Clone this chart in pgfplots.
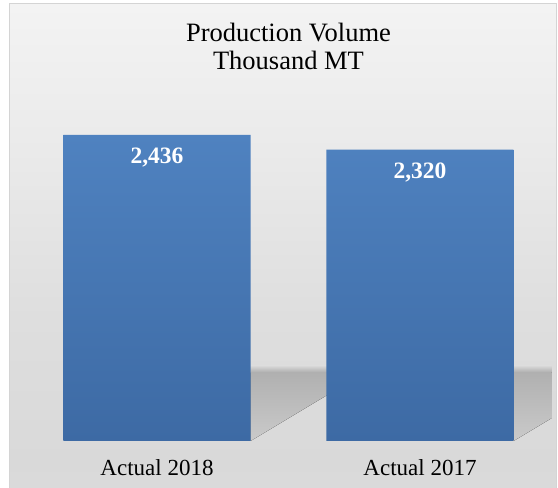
\documentclass[border=0pt]{standalone}
\usepackage{fontspec}
\setmainfont{Liberation Serif}
\usepackage{pgfplots}
\pgfplotsset{compat=1.18}
\definecolor{bgA}{HTML}{FBFBFB}
\definecolor{bgB}{HTML}{F2F2F2}
\definecolor{bgC}{HTML}{DFDFDF}
\definecolor{bgD}{HTML}{D9D9D9}
\definecolor{bgE}{HTML}{DEDEDE}
\definecolor{bgF}{HTML}{EAEAEA}
\definecolor{bgG}{HTML}{F6F6F6}
\definecolor{bgH}{HTML}{FEFEFE}
\definecolor{frame}{HTML}{D4D4D4}
\definecolor{barTop}{HTML}{4F82C0}
\definecolor{barBot}{HTML}{3D6AA4}
\definecolor{shTop}{HTML}{B0B0B0}
\definecolor{shBot}{HTML}{CACACA}
\pgfdeclareverticalshading{bgshade}{100bp}{color(0bp)=(bgA); color(9bp)=(bgB); color(18bp)=(bgC); color(28bp)=(bgD); color(43bp)=(bgE); color(60bp)=(bgF); color(80bp)=(bgG); color(100bp)=(bgH)}
\begin{document}
\begin{tikzpicture}
\useasboundingbox (0pt,0pt) rectangle (279pt,244pt);
\shade[shading=bgshade] (4.5pt,-2.5pt) rectangle (278pt,242pt);
\draw[line width=0.5pt, draw=frame] (4.5pt,-2.5pt) rectangle (278pt,242pt);
\begin{axis}[
  at={(12.75pt,23.5pt)}, anchor=south west,
  scale only axis, width=263pt, height=169.6pt,
  xmin=-0.5, xmax=1.5, ymin=0, ymax=2700,
  axis line style={draw=none}, tick style={draw=none},
  ytick=\empty, xtick={0,1}, xticklabels={Actual 2018, Actual 2017},
  xticklabel style={font=\fontsize{11.5}{13}\selectfont, inner sep=0pt, yshift=-9pt},
  title={Production Volume\\Thousand MT},
  title style={at={(0.5,1.197)}, anchor=north, inner sep=0pt, align=center, font=\fontsize{13.25}{14}\selectfont},
  /pgf/number format/assume math mode=true,
  /pgf/number format/1000 sep={,},
]
\fill[top color=shTop, bottom color=shBot] (axis cs:0.3555,0) -- (axis cs:0.66,382) -- (axis cs:0.66,549) -- (axis cs:0.3555,549) -- cycle;
\fill[top color=bgD, bottom color=shTop] (axis cs:0.3555,549) rectangle (axis cs:0.66,600);
\fill[top color=shTop, bottom color=shBot] (axis cs:1.3555,0) -- (axis cs:1.66,382) -- (axis cs:1.66,549) -- (axis cs:1.3555,549) -- cycle;
\fill[top color=bgD, bottom color=shTop] (axis cs:1.3555,549) rectangle (axis cs:1.66,600);
\addplot[ybar, bar width=93.5pt, draw=none, top color=barTop, bottom color=barBot,
  nodes near coords,
  nodes near coords style={anchor=north, inner sep=0pt, yshift=-6.5pt, text=white, font=\fontsize{11.75}{14}\selectfont\bfseries}]
  coordinates {(0,2436) (1,2320)};
\end{axis}
\end{tikzpicture}
\end{document}
